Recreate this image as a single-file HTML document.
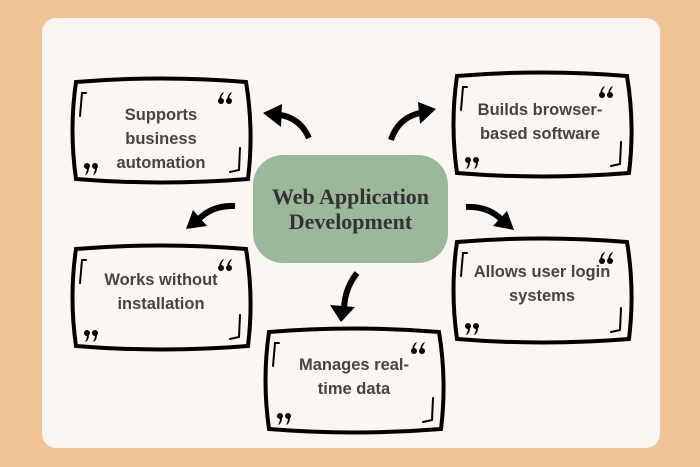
<!DOCTYPE html>
<html><head><meta charset="utf-8"><style>
html,body{margin:0;padding:0}
body{width:700px;height:467px;background:#f1c495;position:relative;overflow:hidden;font-family:"Liberation Sans",sans-serif}
.card{position:absolute;left:42px;top:18px;width:618px;height:430px;background:#fbf6f2;border-radius:14px}
.t{position:absolute;color:#444;font-weight:bold;font-size:16.5px;line-height:24px;text-align:center}
.c{position:absolute;left:253px;top:155px;width:195px;height:108px;background:#9cb89a;border-radius:30px;display:flex;align-items:center;justify-content:center;text-align:center;font-family:"Liberation Serif",serif;font-weight:bold;font-size:22px;line-height:25px;color:#333}
</style></head><body>
<div class="card"></div>
<svg width="700" height="467" style="position:absolute;left:0;top:0">
<defs>
<g id="bx" fill="none" stroke="#000" stroke-linecap="round">
<path d="M4,4 Q89,-3 174,4 Q182,52 176,101 Q89,108 4,101 Q-3,52 4,4Z" stroke-width="4" fill="#fbf6f2"/>
<path d="M14,15 L10,15 L8,38" stroke-width="2"/>
<path d="M168,70 L167,92 L158,94" stroke-width="2"/>
<g fill="#000" stroke="none">
<circle cx="149" cy="23" r="3"/><circle cx="157" cy="23" r="3"/>
<path d="M147,22 Q148,15 152,14 L151,16 Q149,18 149,22Z"/><path d="M155,22 Q156,15 160,14 L159,16 Q157,18 157,22Z"/>
<circle cx="15" cy="88" r="3"/><circle cx="23" cy="88" r="3"/>
<path d="M17,89 Q17,96 13,97 L14,95 Q15,93 15,89Z"/><path d="M25,89 Q25,96 21,97 L22,95 Q23,93 23,89Z"/>
</g>
</g>
</defs>
<use href="#bx" x="72" y="78"/>
<use href="#bx" x="453" y="72"/>
<use href="#bx" x="72" y="245"/>
<use href="#bx" x="453" y="238"/>
<use href="#bx" x="265" y="328"/>
<g fill="none" stroke="#000" stroke-width="6">
<path d="M309,138 Q300,118 280,115"/>
<path d="M391,140 Q398,118 420,113"/>
<path d="M235,206 Q212,205 198,220"/>
<path d="M466,207 Q488,206 502,220"/>
<path d="M357,273 Q345,288 344,308"/>
</g>
<g fill="#000">
<polygon points="263,113 282,104 281,127"/>
<polygon points="436,109 418,102 420,124"/>
<polygon points="186,229 193,210 207,226"/>
<polygon points="514,230 507,211 493,226"/>
<polygon points="341,322 330,305 355,307"/>
</g>
</svg>
<div class="t" style="left:72px;top:103px;width:178px">Supports<br>business<br>automation</div>
<div class="t" style="left:455px;top:98px;width:170px">Builds browser-<br>based software</div>
<div class="t" style="left:72px;top:268px;width:178px">Works without<br>installation</div>
<div class="t" style="left:453px;top:260px;width:178px">Allows user login<br>systems</div>
<div class="t" style="left:265px;top:353px;width:178px">Manages real-<br>time data</div>
<div class="c">Web Application<br>Development</div>
</body></html>
